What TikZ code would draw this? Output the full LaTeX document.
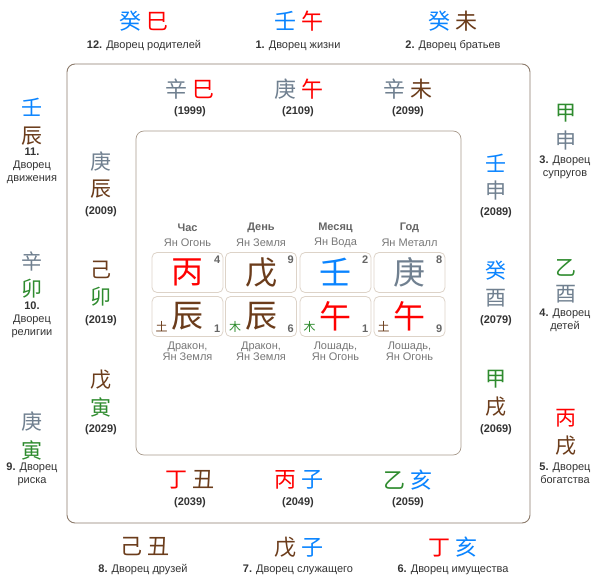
\documentclass[tikz,border=0pt]{standalone}
\usepackage{fontspec}
\setmainfont{Liberation Sans}
\newfontfamily\cjk{Noto Sans CJK SC}
\definecolor{wat}{HTML}{0A84FF}
\definecolor{fir}{HTML}{FF0000}
\definecolor{ear}{HTML}{6B3C1B}
\definecolor{woo}{HTML}{2E8B2E}
\definecolor{met}{HTML}{708090}
\definecolor{frame}{HTML}{8C7B6B}
\definecolor{iframe}{HTML}{A89A8C}
\definecolor{cellb}{HTML}{DDD3C8}
\definecolor{txt}{HTML}{333333}
\definecolor{hdrc}{HTML}{666666}
\definecolor{subc}{HTML}{777777}
\newcommand\hp[4]{{\color{#1}#2}\hspace{5pt}{\color{#3}#4}}
\tikzset{
 ch/.style={font=\cjk\fontsize{22}{22}\selectfont, inner sep=0pt},
 vch/.style={font=\cjk\fontsize{21}{21}\selectfont, inner sep=0pt},
 big/.style={font=\cjk\fontsize{32}{32}\selectfont, inner sep=0pt},
 elem/.style={font=\cjk\fontsize{12}{12}\selectfont, inner sep=0pt},
 lbl/.style={font=\fontsize{11}{13}\selectfont, text=txt, align=center, inner sep=0pt},
 yr/.style={font=\bfseries\fontsize{11}{13}\selectfont, text=txt, inner sep=0pt},
 hdr/.style={font=\bfseries\fontsize{11}{12}\selectfont, text=hdrc, inner sep=0pt},
 sub/.style={font=\fontsize{11}{11.5}\selectfont, text=subc, inner sep=0pt, align=center},
 cellbox/.style={draw=cellb, fill=white, rounded corners=5pt, minimum width=71pt, minimum height=40pt, inner sep=0pt, line width=0.8pt},
 num/.style={font=\bfseries\fontsize{11}{12}\selectfont, text=hdrc, inner sep=0pt},
 outerbox/.style={draw=frame, line width=0.9pt, rounded corners=8pt},
 innerbox/.style={draw=iframe, line width=0.7pt, rounded corners=8pt},
}
\begin{document}
\begin{tikzpicture}[x=1pt,y={(0pt,-1pt)}]
\useasboundingbox (0,0) rectangle (597,586);
\draw[outerbox] (67,64) rectangle (530,523);
\draw[innerbox] (136,131) rectangle (461,455);

% top outer
\node[ch] (t12) at (144,21) {\hp{wat}{癸}{fir}{巳}};
\node[lbl] (t12l) at (144,46) {\textbf{12.} Дворец родителей};
\node[ch] (t1) at (299,21) {\hp{wat}{壬}{fir}{午}};
\node[lbl] (t1l) at (298,46) {\textbf{1.} Дворец жизни};
\node[ch] (t2) at (453,21) {\hp{wat}{癸}{ear}{未}};
\node[lbl] (t2l) at (453,46) {\textbf{2.} Дворец братьев};

% top inner
\node[ch] (i1) at (190,89) {\hp{met}{辛}{fir}{巳}};
\node[yr] (i1y) at (190,112) {(1999)};
\node[ch] (i2) at (299,89) {\hp{met}{庚}{fir}{午}};
\node[yr] (i2y) at (298,112) {(2109)};
\node[ch] (i3) at (408,89) {\hp{met}{辛}{ear}{未}};
\node[yr] (i3y) at (408,112) {(2099)};

% bottom inner
\node[ch] (b1) at (190,480) {\hp{fir}{丁}{ear}{丑}};
\node[yr] (b1y) at (190,503) {(2039)};
\node[ch] (b2) at (299,480) {\hp{fir}{丙}{wat}{子}};
\node[yr] (b2y) at (298,503) {(2049)};
\node[ch] (b3) at (408,480) {\hp{woo}{乙}{wat}{亥}};
\node[yr] (b3y) at (408,503) {(2059)};

% bottom outer
\node[ch] (o8) at (145,547) {\hp{ear}{己}{ear}{丑}};
\node[lbl] (o8l) at (143,570) {\textbf{8.} Дворец друзей};
\node[ch] (o7) at (299,547) {\hp{ear}{戊}{wat}{子}};
\node[lbl] (o7l) at (298,570) {\textbf{7.} Дворец служащего};
\node[ch] (o6) at (453,547) {\hp{fir}{丁}{wat}{亥}};
\node[lbl] (o6l) at (453,570) {\textbf{6.} Дворец имущества};

% left outer
\node[vch, text=wat] (l11a) at (32,107) {壬};
\node[vch, text=ear] (l11b) at (32,136) {辰};
\node[lbl] (l11l) at (32,166) {\textbf{11.}\\Дворец\\движения};
\node[vch, text=met] (l10a) at (32,261) {辛};
\node[vch, text=woo] (l10b) at (32,289) {卯};
\node[lbl] (l10l) at (32,319.5) {\textbf{10.}\\Дворец\\религии};
\node[vch, text=met] (l9a) at (32,422) {庚};
\node[vch, text=woo] (l9b) at (32,450) {寅};
\node[lbl] (l9l) at (32,474.5) {\textbf{9.} Дворец\\риска};

% left inner
\node[vch, text=met] (li1a) at (101,162) {庚};
\node[vch, text=ear] (li1b) at (101,189) {辰};
\node[yr] (li1y) at (101,212) {(2009)};
\node[vch, text=ear] (li2a) at (101,270) {己};
\node[vch, text=woo] (li2b) at (101,297) {卯};
\node[yr] (li2y) at (101,321) {(2019)};
\node[vch, text=ear] (li3a) at (101,380) {戊};
\node[vch, text=woo] (li3b) at (101,407) {寅};
\node[yr] (li3y) at (101,430) {(2029)};

% right inner
\node[vch, text=wat] (ri1a) at (496,163) {壬};
\node[vch, text=met] (ri1b) at (496,191) {申};
\node[yr] (ri1y) at (496,213) {(2089)};
\node[vch, text=wat] (ri2a) at (496,271) {癸};
\node[vch, text=met] (ri2b) at (496,298) {酉};
\node[yr] (ri2y) at (496,321) {(2079)};
\node[vch, text=woo] (ri3a) at (496,379) {甲};
\node[vch, text=ear] (ri3b) at (496,407) {戌};
\node[yr] (ri3y) at (496,430) {(2069)};

% right outer
\node[vch, text=woo] (r3a) at (566,113) {甲};
\node[vch, text=met] (r3b) at (566,141) {申};
\node[lbl] (r3l) at (565,167) {\textbf{3.} Дворец\\супругов};
\node[vch, text=woo] (r4a) at (566,268) {乙};
\node[vch, text=met] (r4b) at (566,294) {酉};
\node[lbl] (r4l) at (565,320.5) {\textbf{4.} Дворец\\детей};
\node[vch, text=fir] (r5a) at (566,418) {丙};
\node[vch, text=ear] (r5b) at (566,446) {戌};
\node[lbl] (r5l) at (565,473.5) {\textbf{5.} Дворец\\богатства};

% center chart
\foreach \i/\x/\h/\s/\st/\sc/\br/\bc/\el/\ec/\na/\nb/\ua/\ub in {
 1/187.5/{Час}/{Ян Огонь}/{丙}/fir/{辰}/ear/{土}/ear/4/1/{Дракон,}/{Ян Земля},
 2/261/{День}/{Ян Земля}/{戊}/ear/{辰}/ear/{木}/woo/9/6/{Дракон,}/{Ян Земля},
 3/335.5/{Месяц}/{Ян Вода}/{壬}/wat/{午}/fir/{木}/woo/2/1/{Лошадь,}/{Ян Огонь},
 4/409.5/{Год}/{Ян Металл}/{庚}/met/{午}/fir/{土}/ear/8/9/{Лошадь,}/{Ян Огонь}}{
 \node[hdr] (h\i) at (\x,228) {\h};
 \node[sub] (s\i) at (\x,243) {\s};
 \node[cellbox] (cs\i) at (\x,272.5) {};
 \node[big, text=\sc] (gs\i) at (cs\i.center) {\st};
 \node[num, anchor=north east] (ns\i) at ([xshift=-3pt,yshift=-4pt]cs\i.north east) {\na};
 \node[cellbox] (cb\i) at (\x,316.5) {};
 \node[big, text=\bc] (gb\i) at (cb\i.center) {\br};
 \node[num, anchor=south east] (nb\i) at ([xshift=-3pt,yshift=4pt]cb\i.south east) {\nb};
 \node[elem, text=\ec] (e\i) at ([xshift=10pt,yshift=10pt]cb\i.south west) {\el};
 \node[sub] (u\i) at (\x,351.5) {\ua\\\ub};
}
\end{tikzpicture}
\end{document}
